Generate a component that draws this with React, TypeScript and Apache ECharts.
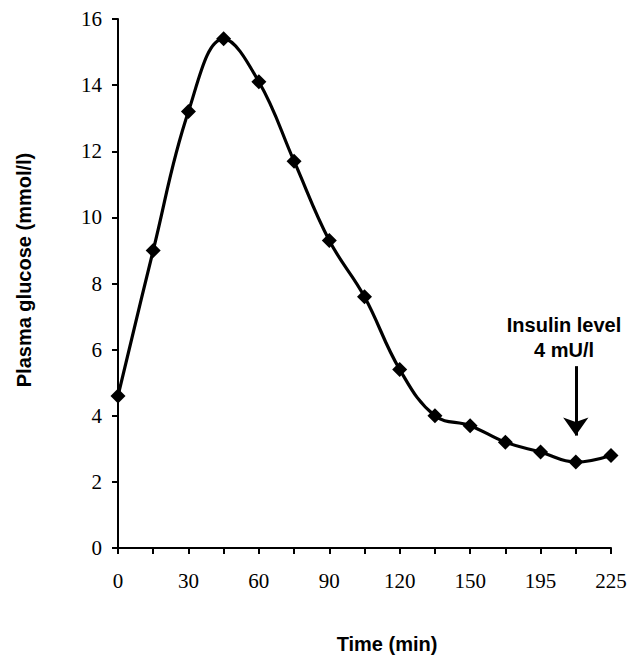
import React, { useEffect, useRef } from "react";
import * as echarts from "echarts";

const timeCategories = ["0", "15", "30", "45", "60", "75", "90", "105", "120", "135", "150", "165", "195", "210", "225"];
const glucoseValues = [4.6, 9.0, 13.2, 15.4, 14.1, 11.7, 9.3, 7.6, 5.4, 4.0, 3.7, 3.2, 2.9, 2.6, 2.8];
const arrowCategory = "210";
const arrowFrom = 5.5;
const arrowTo = 3.4;
const yTicks = { min: 0, max: 16, interval: 2 };

export default function App() {
  const ref = useRef<HTMLDivElement>(null);
  useEffect(() => {
    if (!ref.current) return;
    const chart = echarts.init(ref.current, null, { renderer: "svg" });
    const serif = "'Liberation Serif', 'Times New Roman', Times, serif";
    const sans = "'Liberation Sans', Arial, sans-serif";
    const tickText = { color: "#000", fontFamily: serif, fontSize: 21, fontWeight: "normal" as const };
    chart.setOption({
      animation: false,
      backgroundColor: "#ffffff",
      textStyle: { fontFamily: serif },
      grid: { left: 118, right: 30, top: 19, bottom: 108 },
      xAxis: {
        type: "category",
        data: timeCategories,
        boundaryGap: false,
        axisLine: { lineStyle: { color: "#000", width: 2 } },
        axisTick: { show: true, length: 6, lineStyle: { color: "#000", width: 2 }, interval: 0 },
        axisLabel: { interval: 1, margin: 22, ...tickText },
        splitLine: { show: false },
      },
      yAxis: {
        type: "value",
        min: yTicks.min,
        max: yTicks.max,
        interval: yTicks.interval,
        axisLine: { show: true, lineStyle: { color: "#000", width: 2 } },
        axisTick: { show: true, length: 6, lineStyle: { color: "#000", width: 2 } },
        axisLabel: { margin: 16, ...tickText },
        splitLine: { show: false },
      },
      series: [
        {
          type: "line",
          data: glucoseValues,
          smooth: 0.4,
          symbol: "diamond",
          symbolSize: 15,
          itemStyle: { color: "#000" },
          lineStyle: { color: "#000", width: 3.2 },
          markLine: {
            silent: true,
            symbol: ["none", "arrow"],
            symbolSize: [19, 18],
            label: { show: false },
            lineStyle: { color: "#000", width: 3, type: "solid" },
            data: [[{ coord: [arrowCategory, arrowFrom] }, { coord: [arrowCategory, arrowTo] }]],
          },
        },
      ],
      graphic: [
        {
          type: "text",
          x: 387,
          y: 644,
          style: { text: "Time (min)", font: `bold 20px ${sans}`, fill: "#000", align: "center", verticalAlign: "middle" },
        },
        {
          type: "text",
          x: 24,
          y: 270,
          rotation: Math.PI / 2,
          style: { text: "Plasma glucose (mmol/l)", font: `bold 20px ${sans}`, fill: "#000", align: "center", verticalAlign: "middle" },
        },
        {
          type: "text",
          x: 564,
          y: 325,
          style: { text: "Insulin level", font: `bold 20px ${sans}`, fill: "#000", align: "center", verticalAlign: "middle" },
        },
        {
          type: "text",
          x: 564,
          y: 350,
          style: { text: "4 mU/l", font: `bold 20px ${sans}`, fill: "#000", align: "center", verticalAlign: "middle" },
        },
      ],
    });
    return () => chart.dispose();
  }, []);
  return <div ref={ref} style={{ width: 641, height: 656, position: "absolute", left: 0, top: 0 }} />;
}
